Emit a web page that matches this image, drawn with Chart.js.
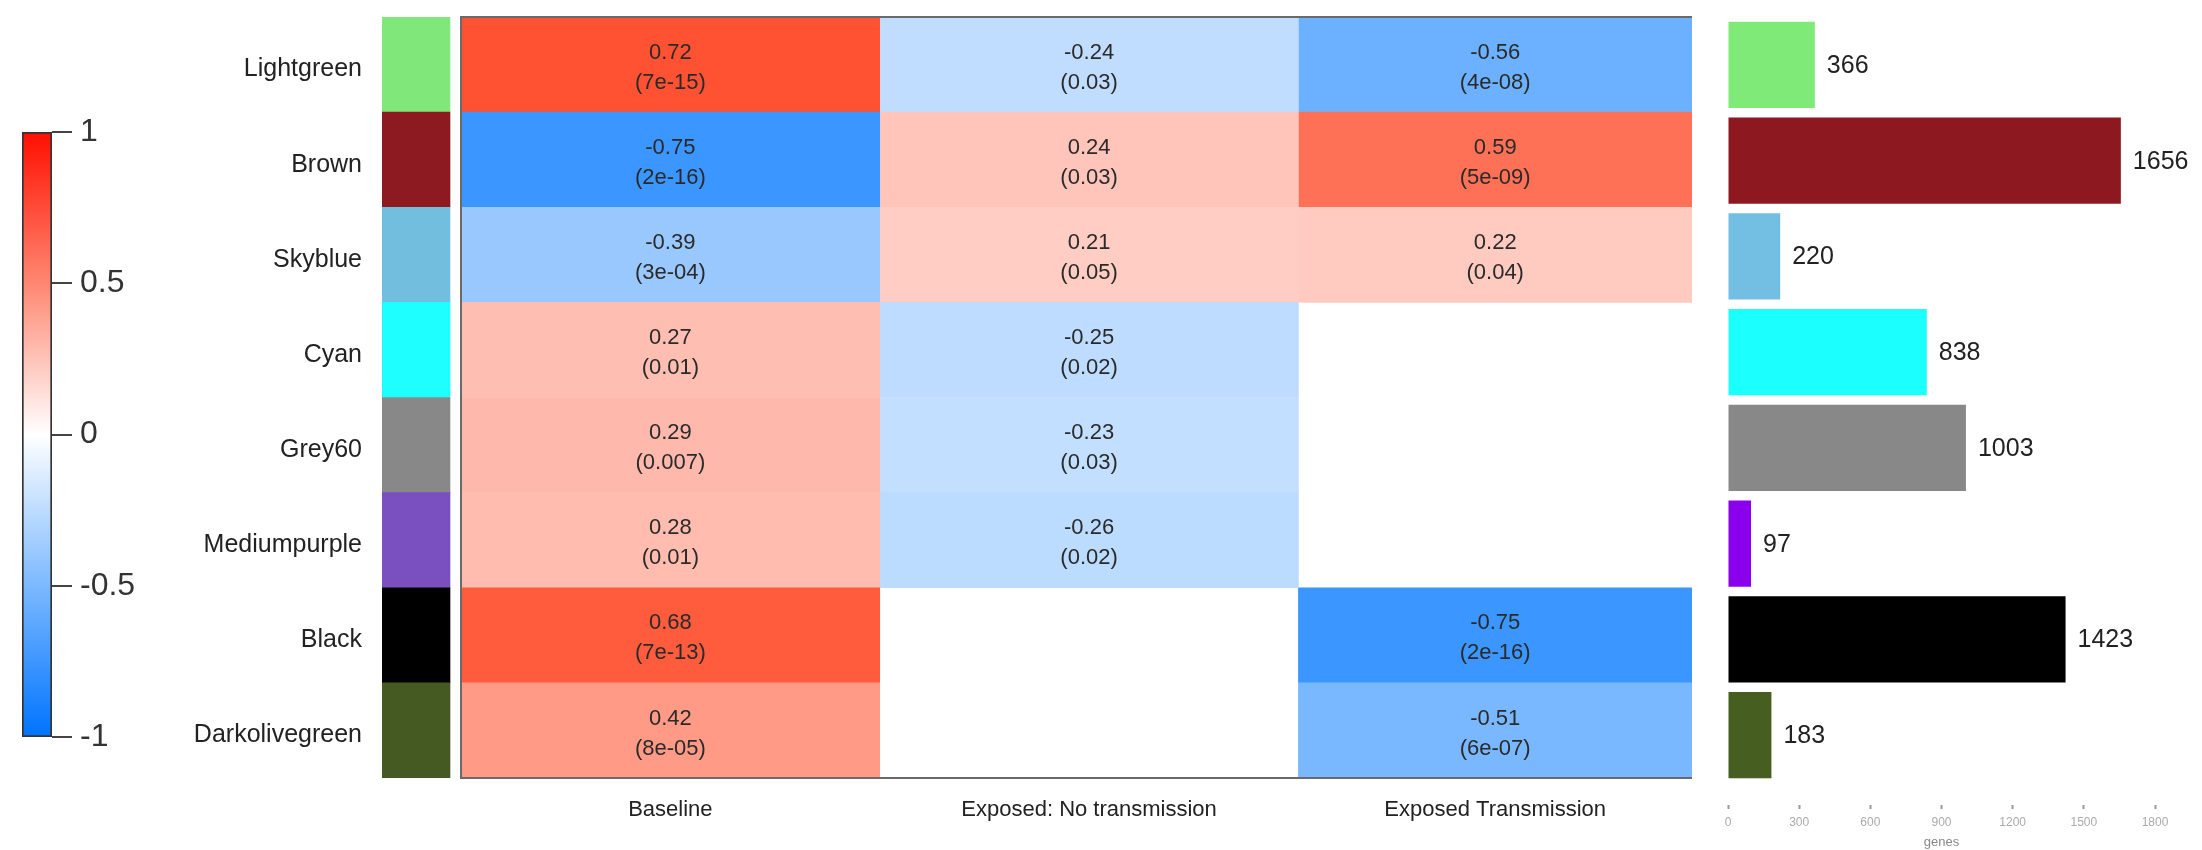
<!DOCTYPE html>
<html>
<head>
<meta charset="utf-8">
<title>Module-trait correlations</title>
<script src="https://cdn.jsdelivr.net/npm/chart.js@4.4.1/dist/chart.umd.min.js"></script>
<style>
  html, body { margin: 0; padding: 0; background: #fff; }
  #page { position: relative; width: 2202px; height: 850px; overflow: hidden; }
  #page canvas { position: absolute; }
  #scale-canvas { left: 0; top: 100px; }
  #heat-canvas { left: 0; top: 0; }
  #count-canvas { left: 1700px; top: 0; }
</style>
</head>
<body>
<div id="page">
  <canvas id="heat-canvas" width="1700" height="850"></canvas>
  <canvas id="scale-canvas" width="150" height="680"></canvas>
  <canvas id="count-canvas" width="502" height="850"></canvas>
</div>
<script>
/* modules (rows) */
const modules = ['Lightgreen', 'Brown', 'Skyblue', 'Cyan', 'Grey60', 'Mediumpurple', 'Black', 'Darkolivegreen'];
const moduleColors = ['#80e87a', '#8c1a20', '#72bedf', '#1effff', '#888888', '#7a50c0', '#000000', '#445a22'];
const countColors = ['#80ea78', '#8e1820', '#72bfe3', '#1cffff', '#888888', '#8a00ec', '#000000', '#465e20'];

/* traits (columns) */
const traits = ['Baseline', 'Exposed: No transmission', 'Exposed Transmission'];

/* correlation and p-value per trait; null = not significant, left blank */
const corBaseline = [0.72, -0.75, -0.39, 0.27, 0.29, 0.28, 0.68, 0.42];
const pBaseline = ['7e-15', '2e-16', '3e-04', '0.01', '0.007', '0.01', '7e-13', '8e-05'];
const corNoTransmission = [-0.24, 0.24, 0.21, -0.25, -0.23, -0.26, null, null];
const pNoTransmission = ['0.03', '0.03', '0.05', '0.02', '0.03', '0.02', null, null];
const corTransmission = [-0.56, 0.59, 0.22, null, null, null, -0.75, -0.51];
const pTransmission = ['4e-08', '5e-09', '0.04', null, null, null, '2e-16', '6e-07'];

/* module sizes */
const geneCounts = [366, 1656, 220, 838, 1003, 97, 1423, 183];

/* tick values */
const scaleTicks = [-1, -0.5, 0, 0.5, 1];
const countTicks = [0, 300, 600, 900, 1200, 1500, 1800];

const corCols = [corBaseline, corNoTransmission, corTransmission];
const pCols = [pBaseline, pNoTransmission, pTransmission];

// layout of the heatmap along x (value units): column edges and the module colour strip
const colEdges = [0, 1, 2, 2.94];
const stripRange = [-0.1887, -0.0263];
const colCenters = traits.map((t, c) => (colEdges[c] + colEdges[c + 1]) / 2);

Chart.defaults.font.family = '"Liberation Sans", Arial, Helvetica, sans-serif';
Chart.defaults.color = '#222';
Chart.defaults.animation = false;

/* blue - white - red ramp for correlations */
function corColor(v) {
    const a = Math.min(Math.abs(v), 1);
    let r, g, b;
    if (v >= 0) {
        r = 255; g = 255 - 240 * a; b = 255 - 285 * a;
    } else {
        r = 255 - 262 * a; g = 255 - 140 * a; b = 255;
    }
    const c = x => Math.max(0, Math.min(255, Math.round(x)));
    return `rgb(${c(r)}, ${c(g)}, ${c(b)})`;
}

/* Colour scale legend */
new Chart(document.getElementById('scale-canvas'), {
    type: 'bar',
    data: {
        labels: ['r'],
        datasets: [{
            data: [[-1, 1]],
            backgroundColor: (ctx) => {
                const chart = ctx.chart;
                if (!chart.chartArea) return null;
                const y = chart.scales.y;
                const grad = chart.ctx.createLinearGradient(0, y.getPixelForValue(-1), 0, y.getPixelForValue(1));
                scaleTicks.forEach(v => grad.addColorStop((v + 1) / 2, corColor(v)));
                return grad;
            },
            borderColor: '#333',
            borderWidth: 2,
            borderSkipped: false,
            barPercentage: 1,
            categoryPercentage: 1
        }]
    },
    options: {
        responsive: false,
        devicePixelRatio: 1,
        layout: { padding: { left: 22, top: 32, bottom: 43, right: 0 } },
        scales: {
            x: { display: false },
            y: {
                position: 'right',
                min: -1,
                max: 1,
                afterBuildTicks: (scale) => { scale.ticks = scaleTicks.map(v => ({ value: v })); },
                afterFit: (scale) => { scale.width = 98; },
                grid: { drawOnChartArea: false, drawTicks: true, tickLength: 20, color: '#444', lineWidth: 2 },
                border: { display: false },
                ticks: { padding: 8, font: { size: 32 }, color: '#333', callback: v => String(v) }
            }
        },
        plugins: { legend: { display: false }, tooltip: { enabled: false } }
    }
});

/* Writes r and (p) into each heatmap cell */
const cellText = {
    id: 'cellText',
    afterDatasetsDraw(chart) {
        const ctx = chart.ctx;
        ctx.save();
        ctx.font = '22px "Liberation Sans", Arial, sans-serif';
        ctx.fillStyle = '#2a2a2a';
        ctx.textAlign = 'center';
        ctx.textBaseline = 'middle';
        corCols.forEach((vals, c) => {
            const meta = chart.getDatasetMeta(c);
            vals.forEach((v, i) => {
                if (v === null) return;
                const bar = meta.data[i];
                const cx = (bar.x + bar.base) / 2;
                ctx.fillText(v.toFixed(2), cx, bar.y - 12);
                ctx.fillText('(' + pCols[c][i] + ')', cx, bar.y + 18);
            });
        });
        ctx.restore();
    }
};

/* Frame on the left, top and bottom of the heatmap */
const heatFrame = {
    id: 'heatFrame',
    afterDatasetsDraw(chart) {
        const { ctx, chartArea } = chart;
        const x = chart.scales.x;
        const x0 = x.getPixelForValue(colEdges[0]);
        const x1 = x.getPixelForValue(colEdges[colEdges.length - 1]);
        ctx.save();
        ctx.strokeStyle = '#6a6a6a';
        ctx.lineWidth = 2;
        ctx.beginPath();
        ctx.moveTo(x1, chartArea.top);
        ctx.lineTo(x0, chartArea.top);
        ctx.lineTo(x0, chartArea.bottom);
        ctx.lineTo(x1, chartArea.bottom);
        ctx.stroke();
        ctx.restore();
    }
};

const heatDatasets = corCols.map((vals, c) => ({
    label: traits[c],
    data: vals.map(v => (v === null ? null : [colEdges[c], colEdges[c + 1]])),
    backgroundColor: vals.map(v => (v === null ? 'rgba(0,0,0,0)' : corColor(v))),
    borderWidth: 0,
    grouped: false,
    barPercentage: 1,
    categoryPercentage: 1
}));
heatDatasets.push({
    label: 'Module',
    data: modules.map(() => stripRange),
    backgroundColor: moduleColors,
    borderWidth: 0,
    grouped: false,
    barPercentage: 1,
    categoryPercentage: 1
});

/* Module x trait heatmap */
new Chart(document.getElementById('heat-canvas'), {
    type: 'bar',
    data: { labels: modules, datasets: heatDatasets },
    options: {
        indexAxis: 'y',
        responsive: false,
        devicePixelRatio: 1,
        layout: { padding: { left: 0, top: 17, right: 8, bottom: 0 } },
        scales: {
            y: {
                type: 'category',
                afterFit: (scale) => {
                    // rows fill the whole height, so the label overhang is not needed
                    scale.width = 382;
                    scale.paddingTop = 0;
                    scale.paddingBottom = 0;
                },
                grid: { display: false, drawTicks: false },
                border: { display: false },
                ticks: { padding: 20, labelOffset: 5, font: { size: 25 }, color: '#222' }
            },
            x: {
                type: 'linear',
                min: stripRange[0],
                max: colEdges[colEdges.length - 1],
                afterBuildTicks: (scale) => { scale.ticks = colCenters.map(v => ({ value: v })); },
                afterFit: (scale) => { scale.height = 72; },
                grid: { display: false, drawTicks: false },
                border: { display: false },
                ticks: {
                    autoSkip: false,
                    maxRotation: 0,
                    padding: 19,
                    font: { size: 22 },
                    color: '#222',
                    callback: (value, index) => traits[index]
                }
            }
        },
        plugins: { legend: { display: false }, tooltip: { enabled: false } }
    },
    plugins: [cellText, heatFrame]
});

/* Gene count labels at the end of each bar */
const countLabels = {
    id: 'countLabels',
    afterDatasetsDraw(chart) {
        const ctx = chart.ctx;
        const meta = chart.getDatasetMeta(0);
        ctx.save();
        ctx.font = '25px "Liberation Sans", Arial, sans-serif';
        ctx.fillStyle = '#222';
        ctx.textAlign = 'left';
        ctx.textBaseline = 'middle';
        geneCounts.forEach((n, i) => {
            const bar = meta.data[i];
            ctx.fillText(String(n), bar.x + 12, bar.y + 1);
        });
        ctx.restore();
    }
};

/* Module size bar chart */
new Chart(document.getElementById('count-canvas'), {
    type: 'bar',
    data: {
        labels: modules,
        datasets: [{
            data: geneCounts,
            backgroundColor: countColors,
            borderWidth: 0,
            barPercentage: 0.9,
            categoryPercentage: 1
        }]
    },
    options: {
        indexAxis: 'y',
        responsive: false,
        devicePixelRatio: 1,
        layout: { padding: { left: 28, top: 17, right: 47, bottom: 0 } },
        scales: {
            y: { type: 'category', display: false },
            x: {
                type: 'linear',
                min: 0,
                max: 1800,
                afterBuildTicks: (scale) => { scale.ticks = countTicks.map(v => ({ value: v })); },
                afterFit: (scale) => { scale.height = 67; },
                grid: {
                    drawOnChartArea: false,
                    drawTicks: true,
                    tickLength: 28,
                    tickColor: '#999',
                    tickWidth: 2,
                    tickBorderDash: [0, 22, 4, 60]
                },
                border: { display: false },
                ticks: {
                    autoSkip: false,
                    maxRotation: 0,
                    padding: 4,
                    font: { size: 12 },
                    color: '#aaa',
                    callback: v => String(v)
                },
                title: { display: true, text: 'genes', font: { size: 13 }, color: '#888', padding: { top: 0, bottom: 0 } }
            }
        },
        plugins: { legend: { display: false }, tooltip: { enabled: false } }
    },
    plugins: [countLabels]
});
</script>
</body>
</html>
